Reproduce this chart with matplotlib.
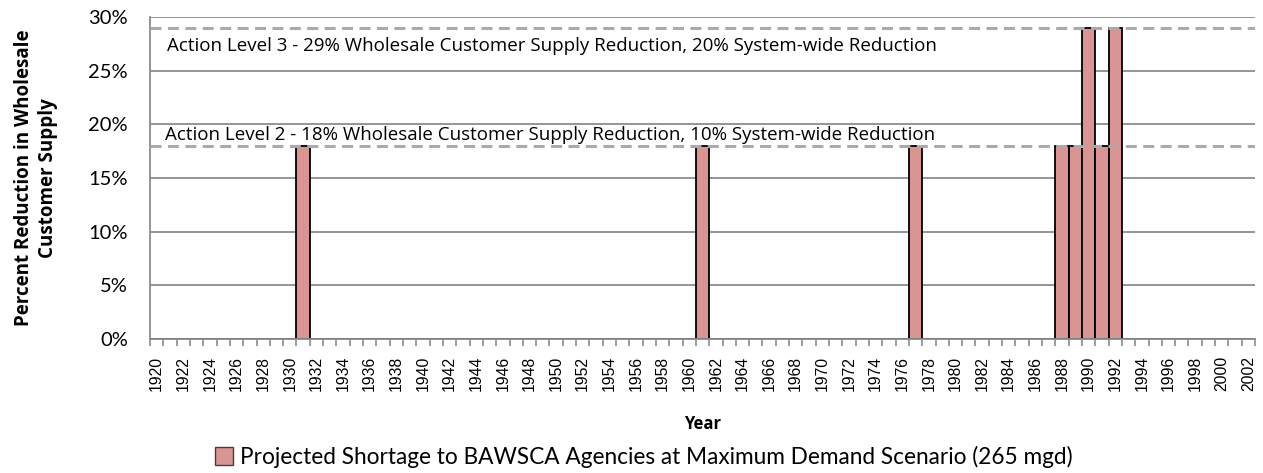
import matplotlib
matplotlib.use("Agg")
import matplotlib.pyplot as plt
import numpy as np
from matplotlib.patches import Patch
from matplotlib.ticker import FixedLocator, PercentFormatter

years = list(range(1920, 2003))
shortage_years = [1931, 1961, 1977, 1988, 1989, 1990, 1991, 1992]
shortage_values = [0.18, 0.18, 0.18, 0.18, 0.18, 0.29, 0.18, 0.29]
level2 = 0.18
level3 = 0.29
level2_text = "Action Level 2 - 18% Wholesale Customer Supply Reduction, 10% System-wide Reduction"
level3_text = "Action Level 3 - 29% Wholesale Customer Supply Reduction, 20% System-wide Reduction"
legend_label = "Projected Shortage to BAWSCA Agencies at Maximum Demand Scenario (265 mgd)"

values = [shortage_values[shortage_years.index(y)] if y in shortage_years else 0 for y in years]

fig = plt.figure(figsize=(12.63, 4.73), dpi=100)
ax = fig.add_axes([0.1188, 0.283, 0.8749, 0.681])

x = np.arange(len(years))
ax.bar(x, values, width=1.0, color="#d99594", edgecolor="black", linewidth=1.3, zorder=3)

ax.set_xlim(-0.5, len(years) - 0.5)
ax.set_ylim(0, 0.30)
ax.set_yticks(np.arange(0, 0.301, 0.05))
ax.yaxis.set_major_formatter(PercentFormatter(1.0, decimals=0))
ax.grid(axis="y", color="#8c8c8c", linewidth=1.3, zorder=0)
ax.set_axisbelow(True)

for sp in ["top", "right"]:
    ax.spines[sp].set_visible(False)
ax.spines["left"].set_color("#8c8c8c")
ax.spines["left"].set_linewidth(1.3)
ax.spines["bottom"].set_color("#8c8c8c")
ax.spines["bottom"].set_linewidth(1.3)
ax.spines["bottom"].set_zorder(4)

ax.tick_params(axis="y", length=0, pad=16, labelsize=14.5)
for lbl in ax.get_yticklabels():
    lbl.set_fontfamily("Lato")

# x ticks: labels every 2 years at category centres; tick marks at category boundaries
ax.set_xticks(x[::2])
ax.set_xticklabels([str(y) for y in years[::2]], rotation=90, fontsize=11.3, family="Liberation Sans")
ax.tick_params(axis="x", length=0, pad=12)
ax.xaxis.set_minor_locator(FixedLocator(np.arange(-0.5, len(years), 1.0)))
ax.tick_params(axis="x", which="minor", length=5, color="#8c8c8c", width=1.2, direction="out")

ax.axhline(level2, color="#aaaaaa", linestyle=(0, (3.6, 2.1)), linewidth=2.2, zorder=4)
ax.axhline(level3, color="#aaaaaa", linestyle=(0, (3.6, 2.1)), linewidth=2.2, zorder=4)

ax.text(0.8, level3 - 0.009, level3_text, fontsize=13.5, family="Open Sans", va="top", ha="left", zorder=5)
ax.text(0.6, level2 + 0.002, level2_text, fontsize=13.5, family="Open Sans", va="bottom", ha="left", zorder=5)

ax.set_ylabel("Percent Reduction in Wholesale\nCustomer Supply", fontsize=13.5, fontweight="bold",
              family="Open Sans", labelpad=22, linespacing=1.25)
ax.set_xlabel("Year", fontsize=12, fontweight="bold", family="Open Sans", labelpad=17)

handle = Patch(facecolor="#d99594", edgecolor="#404040", linewidth=1.0)
fig.legend([handle], [legend_label], loc="center", bbox_to_anchor=(0.51, 0.034), frameon=False,
           prop={"family": "Lato", "size": 16.3}, handlelength=0.8, handleheight=0.8, handletextpad=0.3)

fig.savefig("out.png", dpi=100)
